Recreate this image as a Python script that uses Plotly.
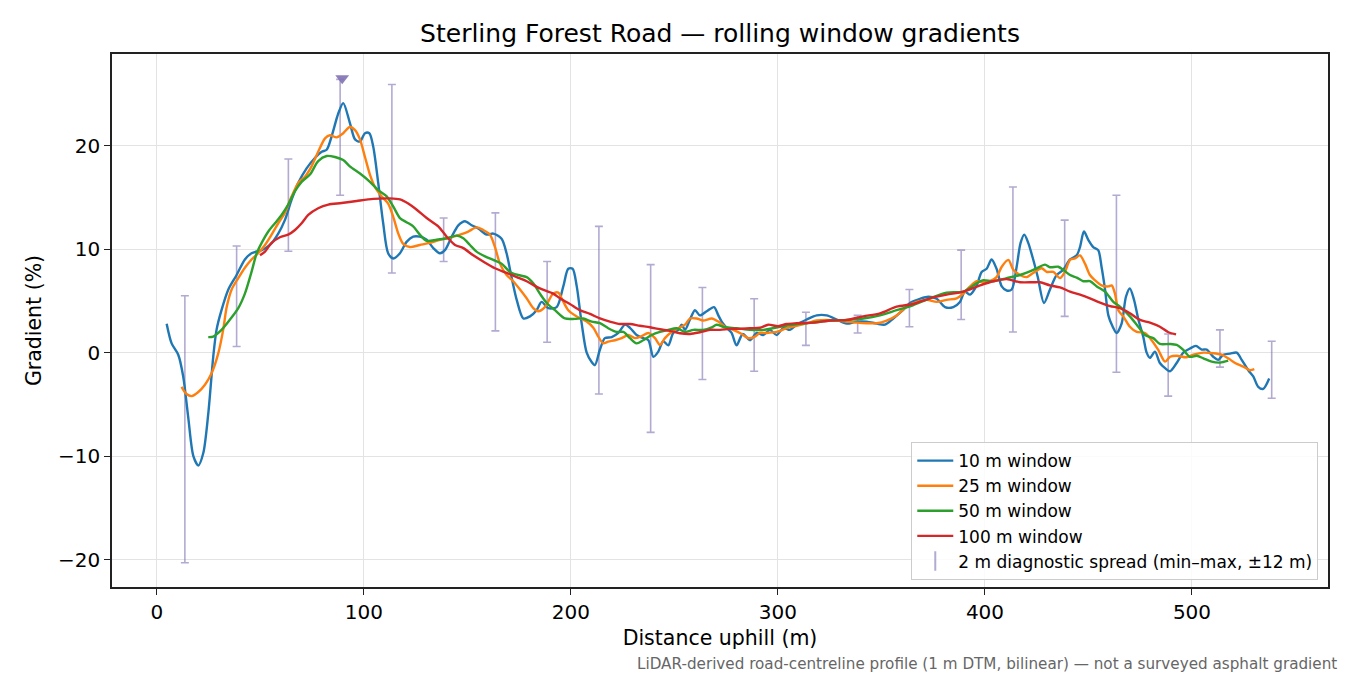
import plotly.graph_objects as go

# 10 m window
dist_10 = [4.7, 7.1, 10.3, 12.7, 15.1, 17.6, 20, 22.4, 24.8, 27.2, 28.8, 31.2, 34.5, 38.5, 42.5, 45.7,
           50.6, 54.6, 58.6, 61.8, 65.1, 68.3, 72.3, 76.3, 79.6, 82, 84.4, 87.6, 90, 93.2, 95.7, 98.1,
           100.5, 102.6, 104.5, 106.9, 109.3, 111.7, 114.2, 117.4, 120.6, 123.8, 127, 130.3, 133.5,
           136.7, 139.1, 142.4, 145.6, 148.8, 152, 155.2, 159.3, 162.5, 166.5, 168.9, 171.3, 173.8,
           177, 180.2, 183.4, 185.8, 189, 193.1, 196.3, 198.7, 200.8, 202.8, 205.2, 207.6, 210,
           211.6, 214, 216.4, 219.7, 222.9, 226.1, 228.5, 231.7, 234.9, 237.4, 239.8, 242.2, 244.6,
           247, 249.4, 251.8, 253.5, 255.1, 257.5, 259.9, 262.3, 265.6, 269.1, 271.2, 272.8, 275.2,
           277.6, 280, 283, 286.5, 289.7, 292.9, 296.1, 299.4, 302.6, 305.8, 309, 313.9, 318.7,
           323.5, 328.4, 333.2, 338, 342.9, 347.7, 351.7, 355.7, 359.8, 363.8, 368.6, 372.6, 376.7,
           380.7, 384.7, 387.9, 390.3, 392.8, 396, 398.4, 400.8, 403.2, 405.6, 408.1, 410.5, 412.9,
           415.3, 417.2, 419, 420.9, 423.3, 425.5, 428.5, 431.4, 434.6, 437.8, 441.1, 444.3, 445.9,
           447.8, 449.9, 452.3, 454.7, 456.3, 458, 459.6, 461.7, 463.6, 466, 468.1, 470, 472, 474.1,
           476.5, 478.1, 479.7, 482.1, 484.5, 487, 489.4, 492.6, 495.8, 499, 501.9, 504.7, 507.1,
           510.3, 512.7, 515.1, 518.4, 521.6, 524, 527.2, 529.6, 532, 534.4, 537.3]
grad_10 = [2.8, 0.9, -0.2, -2.3, -6.2, -10.0, -10.9, -9.7, -5.9, -0.4, 2.2, 4.1, 6.1, 7.5, 9.0, 9.6,
           9.9, 10.4, 11.5, 12.8, 14.8, 16.4, 17.8, 18.8, 19.4, 19.6, 20.9, 23.1, 24.1, 22.2, 20.6, 20.4,
           21.2, 21.2, 19.9, 16.4, 12.5, 9.6, 9.1, 9.6, 10.7, 11.2, 11.2, 10.9, 10.1,
           9.6, 9.9, 11.2, 12.3, 12.7, 12.3, 12.0, 11.4, 11.5, 11.0, 9.6, 7.3, 5.1,
           3.3, 3.5, 4.1, 4.9, 4.3, 4.4, 6.4, 8.1, 8.1, 6.4, 2.8, 0.0, -0.9,
           -1.2, 0.3, 1.4, 1.5, 1.9, 2.7, 2.4, 1.7, 1.4, 1.2, -0.4, 0.1, 1.1,
           0.7, 1.9, 2.2, 2.7, 2.2, 3.2, 4.1, 3.6, 4.0, 4.4, 3.6, 3.0, 2.4,
           1.9, 0.7, 1.8, 1.2, 1.9, 1.7, 2.2, 1.7, 2.4, 2.2, 2.7, 3.2, 3.6,
           3.6, 3.2, 2.8, 3.0, 3.0, 2.8, 2.7, 3.3, 4.0, 4.8, 5.2, 5.4, 5.2,
           4.4, 4.4, 4.9, 5.9, 5.6, 6.5, 7.8, 8.1, 9.0, 8.1, 6.4, 6.0, 6.1,
           8.3, 10.6, 11.4, 10.6, 9.0, 7.3, 4.8, 6.1, 7.5, 8.0, 9.0, 9.4, 10.2,
           11.7, 10.9, 10.2, 9.9, 8.3, 6.1, 3.6, 2.5, 1.9, 2.8, 5.4, 6.2, 5.1, 3.2,
           1.5, 0.0, -0.5, 0.1, -1.0, -1.5, -1.8, -1.0, 0.0, 0.4, 0.65, 0.3, 0.3,
           -0.4, -0.7, -0.2, -0.1, 0.0, -0.7, -1.7, -2.3, -3.3, -3.5, -2.5]

# 25 m window
dist_25 = [11.9, 14.3, 16.8, 20, 23.2, 26.4, 29.6, 32, 33.7, 36.1, 39.3, 42.5, 45.7, 48.9, 52.2,
           55.4, 58.6, 61.8, 65.1, 68.3, 71.5, 74.7, 77.9, 81.2, 83.6, 86.8, 90, 93.2, 95.7, 98.1,
           100.5, 102.9, 105.3, 108.5, 111.7, 114.2, 116.6, 119, 122.2, 127, 131.9, 136.7, 141.5,
           146.4, 150.4, 154.4, 157.6, 160.9, 163.3, 165.7, 168.9, 172.1, 175.4, 178.6, 181.8,
           184.2, 187.4, 191.4, 193.9, 195.5, 198.7, 202.8, 207.6, 210.8, 213.2, 215.6, 218, 221.3,
           224.5, 227.7, 230.9, 234.2, 237.4, 240.6, 243, 245.4, 248.6, 251.8, 255.1, 257.5, 260.7,
           263.9, 268, 271.2, 274.4, 278.4, 282.5, 285.7, 288.9, 291.3, 294.5, 299.4, 304.2, 309,
           313.9, 318.7, 323.5, 328.4, 333.2, 338, 342.9, 347.7, 352.5, 357.3, 362.2, 367, 371.8,
           376.7, 381.5, 386.3, 389.5, 392.8, 396, 399.2, 402.4, 405.6, 408.1, 411.3, 413.7, 416.9,
           420.1, 423.3, 427.4, 429.8, 433, 436.2, 438.6, 441.1, 443.5, 445.9, 448.3, 450.7, 453.1,
           456.3, 459.6, 461.2, 462.8, 464.4, 466.8, 470, 473.3, 477.3, 480.5, 483.7, 487, 489.4,
           492.6, 497.4, 500.6, 505.5, 510.3, 514.3, 517.5, 520.8, 524.8, 528, 530.1]
grad_25 = [-3.3, -4.0, -4.2, -3.8, -3.1, -2.0, -0.1, 2.2, 4.4, 6.1, 7.2, 8.2, 9.0, 9.6, 10.4,
           11.4, 12.5, 13.5, 15.1, 16.4, 17.0, 18.0, 19.4, 20.7, 21.0, 20.8, 21.2, 21.8, 21.5, 20.6,
           18.9, 17.2, 16.0, 15.1, 14.4, 13.1, 11.5, 10.5, 10.2, 10.4, 10.6, 10.9, 11.1,
           11.4, 11.7, 12.1, 11.85, 11.4, 10.2, 8.6, 7.5, 6.9, 6.1, 5.25, 4.3,
           4.0, 4.4, 5.7, 5.8, 5.25, 4.1, 3.5, 3.0, 2.4, 1.55, 0.9, 1.06, 1.2,
           1.4, 1.7, 1.4, 1.6, 1.9, 1.4, 0.74, 1.4, 2.0, 2.36, 2.7, 3.3, 3.3,
           3.1, 3.3, 3.0, 2.5, 2.2, 1.8, 1.4, 1.55, 1.9, 1.9, 2.0, 2.36, 2.6,
           2.84, 3.1, 3.16, 3.1, 3.0, 2.9, 2.84, 2.84, 3.1, 3.6, 4.44, 4.9, 5.1,
           4.9, 5.1, 5.25, 5.7, 6.4, 6.9, 6.8, 6.9, 7.3, 8.3, 8.96, 8.0, 7.5,
           7.3, 7.7, 8.15, 7.8, 7.8, 7.2, 7.8, 8.96, 9.1, 9.4, 8.6, 7.5, 7.0,
           6.5, 6.4, 6.5, 5.7, 4.1, 3.5, 2.5, 2.0, 1.9, 1.2, 0.26, -0.87, -0.4,
           -0.3, -0.45, -0.2, 0.0, -0.06, -0.2, -0.55, -1.0, -1.35, -1.7, -1.6]

# 50 m window
dist_50 = [24.8, 27.2, 31.2, 35.3, 39.3, 42.5, 45.7, 48.2, 50.6, 53.8, 57, 60.2, 63.4, 66.7, 69.9,
           73.9, 77.9, 82, 86, 90, 93.2, 98.1, 102.9, 106.9, 111, 114.2, 117.4, 120.6, 123.8, 127,
           130.3, 135.1, 140, 144.8, 148, 151.2, 154.4, 158.5, 162.5, 166.5, 170.5, 174.5, 178.6,
           181.8, 185, 188.3, 192.3, 197.1, 201.9, 205.9, 210, 214, 218, 222.1, 225.3, 228.5, 231.7,
           234.9, 239, 243, 247, 251.1, 255.1, 259.1, 263.9, 268, 270.4, 274.4, 280, 286.5, 292.9,
           301, 309, 317, 325.1, 333.2, 341.2, 349.3, 357.3, 365.4, 373.4, 381.5, 389.5, 396, 399.2,
           404, 410.5, 416.9, 421.7, 425, 429, 431.4, 435.4, 437.8, 441.1, 444.3, 447.5, 450.7, 454,
           458, 462, 465.2, 470, 473.3, 477.3, 481.3, 484.5, 489.4, 492.6, 495.8, 499, 502.3, 505.5,
           509.5, 513.5, 517.5]
grad_50 = [1.5, 1.55, 2.2, 3.2, 4.3, 5.7, 7.8, 9.6, 10.6, 11.7, 12.5, 13.3, 14.3, 15.6, 16.5,
           17.2, 18.5, 19.0, 18.9, 18.6, 18.0, 17.3, 16.5, 15.7, 15.1, 14.1, 13.0, 12.6, 12.2, 11.4,
           10.8, 10.9, 11.05, 11.3, 11.05, 10.4, 9.76, 9.3, 8.96, 8.6, 7.8, 7.5, 7.3,
           6.7, 5.7, 4.8, 4.1, 3.3, 3.26, 3.3, 3.0, 2.84, 2.36, 2.0, 2.0, 1.4, 0.9,
           1.2, 1.7, 2.0, 2.2, 2.36, 2.0, 2.2, 2.2, 2.45, 2.7, 2.45, 2.36, 2.2, 2.2,
           2.5, 2.74, 2.9, 3.1, 3.16, 3.3, 3.6, 4.1, 4.6, 5.25, 5.8, 5.9, 6.7, 7.0,
           6.9, 7.2, 7.5, 7.85, 8.15, 8.5, 8.25, 8.3, 8.0, 7.5, 7.25, 6.9, 6.9, 6.4,
           5.9, 4.9, 4.44, 3.5, 2.7, 1.7, 1.4, 0.84, 0.84, 0.74, 0.26, -0.4, -0.3, -0.55,
           -0.87, -0.96, -0.77]

# 100 m window
dist_100 = [49.8, 52.2, 55.4, 59.4, 63.4, 66.7, 69.9, 73.1, 77.9, 82.8, 89.2, 96.5, 104.5, 112.6,
            117.4, 121.4, 125.5, 130.3, 135.9, 140, 144, 148, 152.8, 157.6, 163.3, 168.9, 173.8,
            178.6, 185, 191.4, 194.7, 199.5, 204.3, 209.2, 214, 218.8, 223.7, 228.5, 233.3, 238.2,
            243, 247.8, 252.7, 257.5, 262.3, 267.1, 272, 276.8, 281.6, 286.5, 291.3, 295.3, 300.1,
            304.2, 309, 317, 325.1, 333.2, 341.2, 349.3, 357.3, 365.4, 373.4, 381.5, 389.5, 397.6,
            404, 410.5, 416.9, 423.3, 426.6, 431.4, 436.2, 441.1, 445.9, 450.7, 455.6, 460.4, 465.2,
            470, 474.9, 479.7, 484.5, 488.6, 492.3]
grad_100 = [9.4, 9.76, 10.6, 11.15, 11.4, 11.85, 12.5, 13.3, 13.95, 14.3, 14.45, 14.65, 14.85, 14.9,
            14.8, 14.4, 13.8, 13.0, 12.2, 11.2, 10.4, 10.1, 9.4, 8.8, 8.15, 7.7, 7.3,
            6.9, 6.2, 5.7, 5.25, 4.7, 4.1, 3.74, 3.3, 3.0, 2.77, 2.77, 2.6, 2.45,
            2.26, 2.1, 1.87, 1.8, 1.97, 2.2, 2.2, 2.3, 2.3, 2.36, 2.4, 2.7, 2.55,
            2.77, 2.84, 2.9, 3.1, 3.16, 3.5, 3.8, 4.44, 4.7, 5.25, 5.6, 5.9, 6.5,
            6.9, 7.1, 6.8, 6.8, 6.8, 6.5, 6.3, 5.9, 5.6, 5.25, 4.84, 4.5, 4.3,
            3.8, 3.16, 2.9, 2.5, 1.97, 1.77]

# 2 m diagnostic spread (min-max within +-12 m)
spread_x = [13.5, 38.5, 63.5, 88.5, 113.5, 138.5, 163.5, 188.5, 213.5, 238.5, 263.5,
            288.5, 313.5, 338.5, 363.5, 388.5, 413.5, 438.5, 463.5, 488.5, 513.5, 538.5]
spread_lo = [-20.3, 0.6, 9.8, 15.2, 7.7, 8.8, 2.1, 1.0, -4.0, -7.7, -2.6,
             -1.8, 0.7, 1.9, 2.5, 3.2, 2.0, 3.5, -1.9, -4.2, -1.4, -4.4]
spread_hi = [5.5, 10.3, 18.7, 26.4, 25.9, 13.0, 13.5, 8.8, 12.2, 8.5, 6.3,
             5.2, 3.9, 3.6, 6.1, 9.9, 16.0, 12.8, 15.2, 1.8, 2.2, 1.1]

peak_x = [89.5]
peak_y = [26.5]

y_ticks = [-20, -10, 0, 10, 20]
y_labels = ["\u221220", "\u221210", "0", "10", "20"]

spread_col = "rgba(129,114,179,0.6)"
font = "DejaVu Sans, Verdana, sans-serif"

fig = go.Figure()

mid = [(a + b) / 2 for a, b in zip(spread_lo, spread_hi)]
half = [(b - a) / 2 for a, b in zip(spread_lo, spread_hi)]
fig.add_trace(go.Scatter(
    x=spread_x, y=mid, mode="markers",
    marker=dict(size=1, color="rgba(0,0,0,0)"),
    error_y=dict(type="data", array=half, visible=True, color=spread_col, thickness=1.6, width=4),
    showlegend=False, hoverinfo="skip"))

series = [
    (dist_10, grad_10, "10 m window", "#1f77b4"),
    (dist_25, grad_25, "25 m window", "#ff7f0e"),
    (dist_50, grad_50, "50 m window", "#2ca02c"),
    (dist_100, grad_100, "100 m window", "#d62728"),
]
for xs, ys, name, col in series:
    fig.add_trace(go.Scatter(x=xs, y=ys, mode="lines", name=name,
                             line=dict(color=col, width=2.4, shape="spline", smoothing=0.8)))

# legend entry for the spread bars
fig.add_trace(go.Scatter(
    x=[None], y=[None], mode="markers", name="2 m diagnostic spread (min\u2013max, \u00b112 m)",
    marker=dict(symbol="line-ns-open", size=14, color=spread_col, line=dict(color=spread_col, width=2))))

fig.add_trace(go.Scatter(
    x=peak_x, y=peak_y, mode="markers", showlegend=False,
    marker=dict(symbol="triangle-down", size=12, color="rgba(129,114,179,0.9)")))

axis_common = dict(
    showline=True, linecolor="#222222", linewidth=1.5, mirror=True,
    ticks="outside", ticklen=6, tickwidth=1.2, tickcolor="#222222",
    showgrid=True, gridcolor="#e3e3e3", gridwidth=1.3, zeroline=False,
    tickfont=dict(size=20, color="black", family=font),
)

# page body adds an 8 px offset, so the figure is 8 px smaller and margins shifted
fig.update_layout(
    width=1342, height=667,
    paper_bgcolor="white", plot_bgcolor="white",
    margin=dict(l=104, r=22, t=46, b=88),
    font=dict(family=font, color="black"),
    title=dict(text="Sterling Forest Road \u2014 rolling window gradients",
               xref="paper", x=0.5, xanchor="center", y=1 - 25 / 667, yanchor="middle",
               font=dict(size=25, color="black", family=font)),
    xaxis=dict(range=[-21.7, 565.7], tickvals=[0, 100, 200, 300, 400, 500],
               title=dict(text="Distance uphill (m)", font=dict(size=20.5), standoff=8),
               **axis_common),
    yaxis=dict(range=[-22.64, 28.85], tickvals=y_ticks, ticktext=y_labels,
               title=dict(text="Gradient (%)", font=dict(size=20.5), standoff=11),
               **axis_common),
    legend=dict(x=0.992, y=0.013, xanchor="right", yanchor="bottom",
                bgcolor="rgba(255,255,255,0.85)", bordercolor="#cccccc", borderwidth=1,
                font=dict(size=17, family=font), itemwidth=36),
    annotations=[dict(
        text="LiDAR-derived road-centreline profile (1 m DTM, bilinear) \u2014 not a surveyed asphalt gradient",
        xref="paper", yref="paper", x=1.009, y=-0.144, xanchor="right", yanchor="middle",
        showarrow=False, font=dict(size=15.2, color="#666666", family=font))],
)

fig.write_html("out.html")
